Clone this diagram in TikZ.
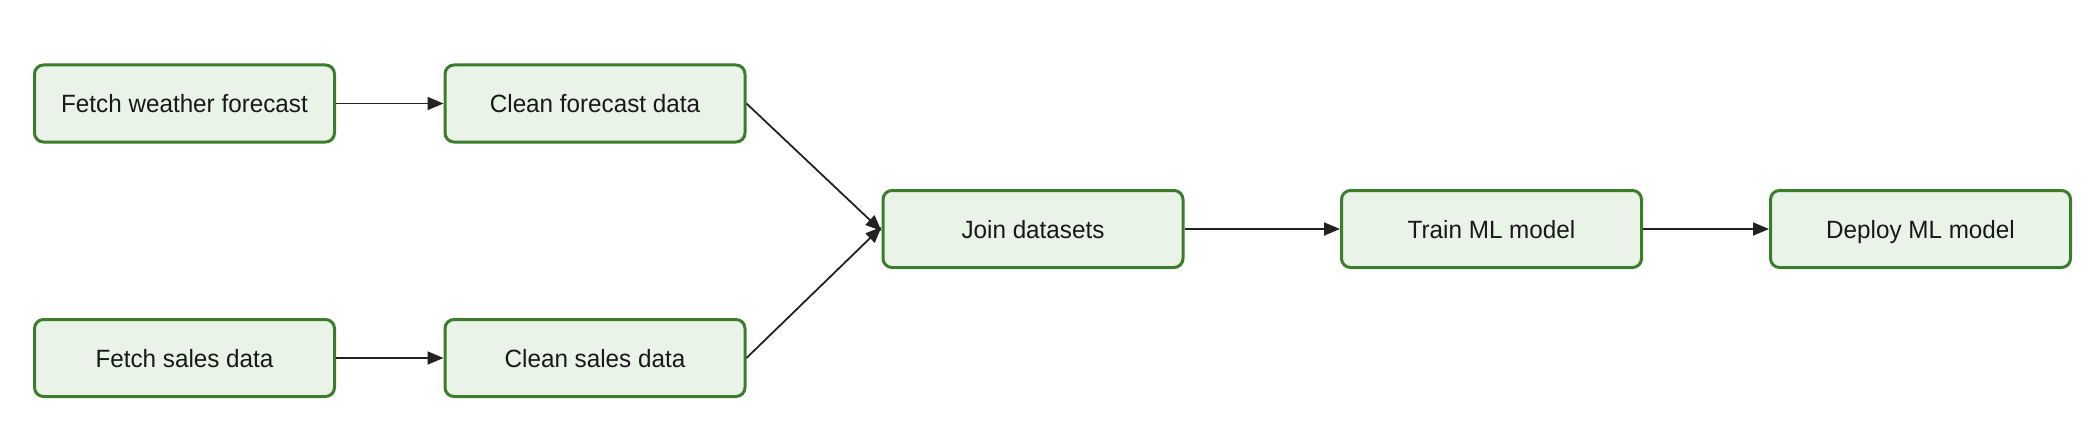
\documentclass[tikz,border=0pt]{standalone}
\usepackage{fontspec}
\setmainfont{Liberation Sans}
\usetikzlibrary{arrows.meta}
\definecolor{boxfill}{HTML}{EAF3E8}
\definecolor{boxline}{HTML}{3B7D2C}
\definecolor{arrowcol}{HTML}{222222}
\begin{document}
\begin{tikzpicture}[x=1pt,y=-1pt,
  stepbox/.style={draw=boxline, fill=boxfill, line width=3pt, rounded corners=9pt,
    minimum width=300pt, minimum height=77pt, inner sep=0pt, anchor=center,
    text height=20pt, text depth=2pt,
    font=\fontsize{25}{28}\selectfont, text=black!90},
  flow/.style={draw=arrowcol, line width=1.8pt, -{Triangle[length=16pt,width=13pt]}}]
\useasboundingbox (0,0) rectangle (2092,428);
\node[stepbox] (fw) at (184.5,103.5) {\scalebox{0.97}[1]{Fetch weather forecast}};
\node[stepbox] (cf) at (595,103.5) {\scalebox{0.97}[1]{Clean forecast data}};
\node[stepbox] (fs) at (184.5,358) {\scalebox{0.97}[1]{Fetch sales data}};
\node[stepbox] (cs) at (595,358) {\scalebox{0.97}[1]{Clean sales data}};
\node[stepbox] (jd) at (1033,229) {\scalebox{0.97}[1]{Join datasets}};
\node[stepbox] (tm) at (1491.5,229) {\scalebox{0.97}[1]{Train ML model}};
\node[stepbox] (dm) at (1920.5,229) {\scalebox{0.97}[1]{Deploy ML model}};
\draw[flow] (fw) -- (cf);
\draw[flow] (fs) -- (cs);
\draw[flow] (cf.east) -- ([yshift=-2pt]jd.west);
\draw[flow] (cs.east) -- ([yshift=2pt]jd.west);
\draw[flow] (jd) -- (tm);
\draw[flow] (tm) -- (dm);
\end{tikzpicture}
\end{document}
